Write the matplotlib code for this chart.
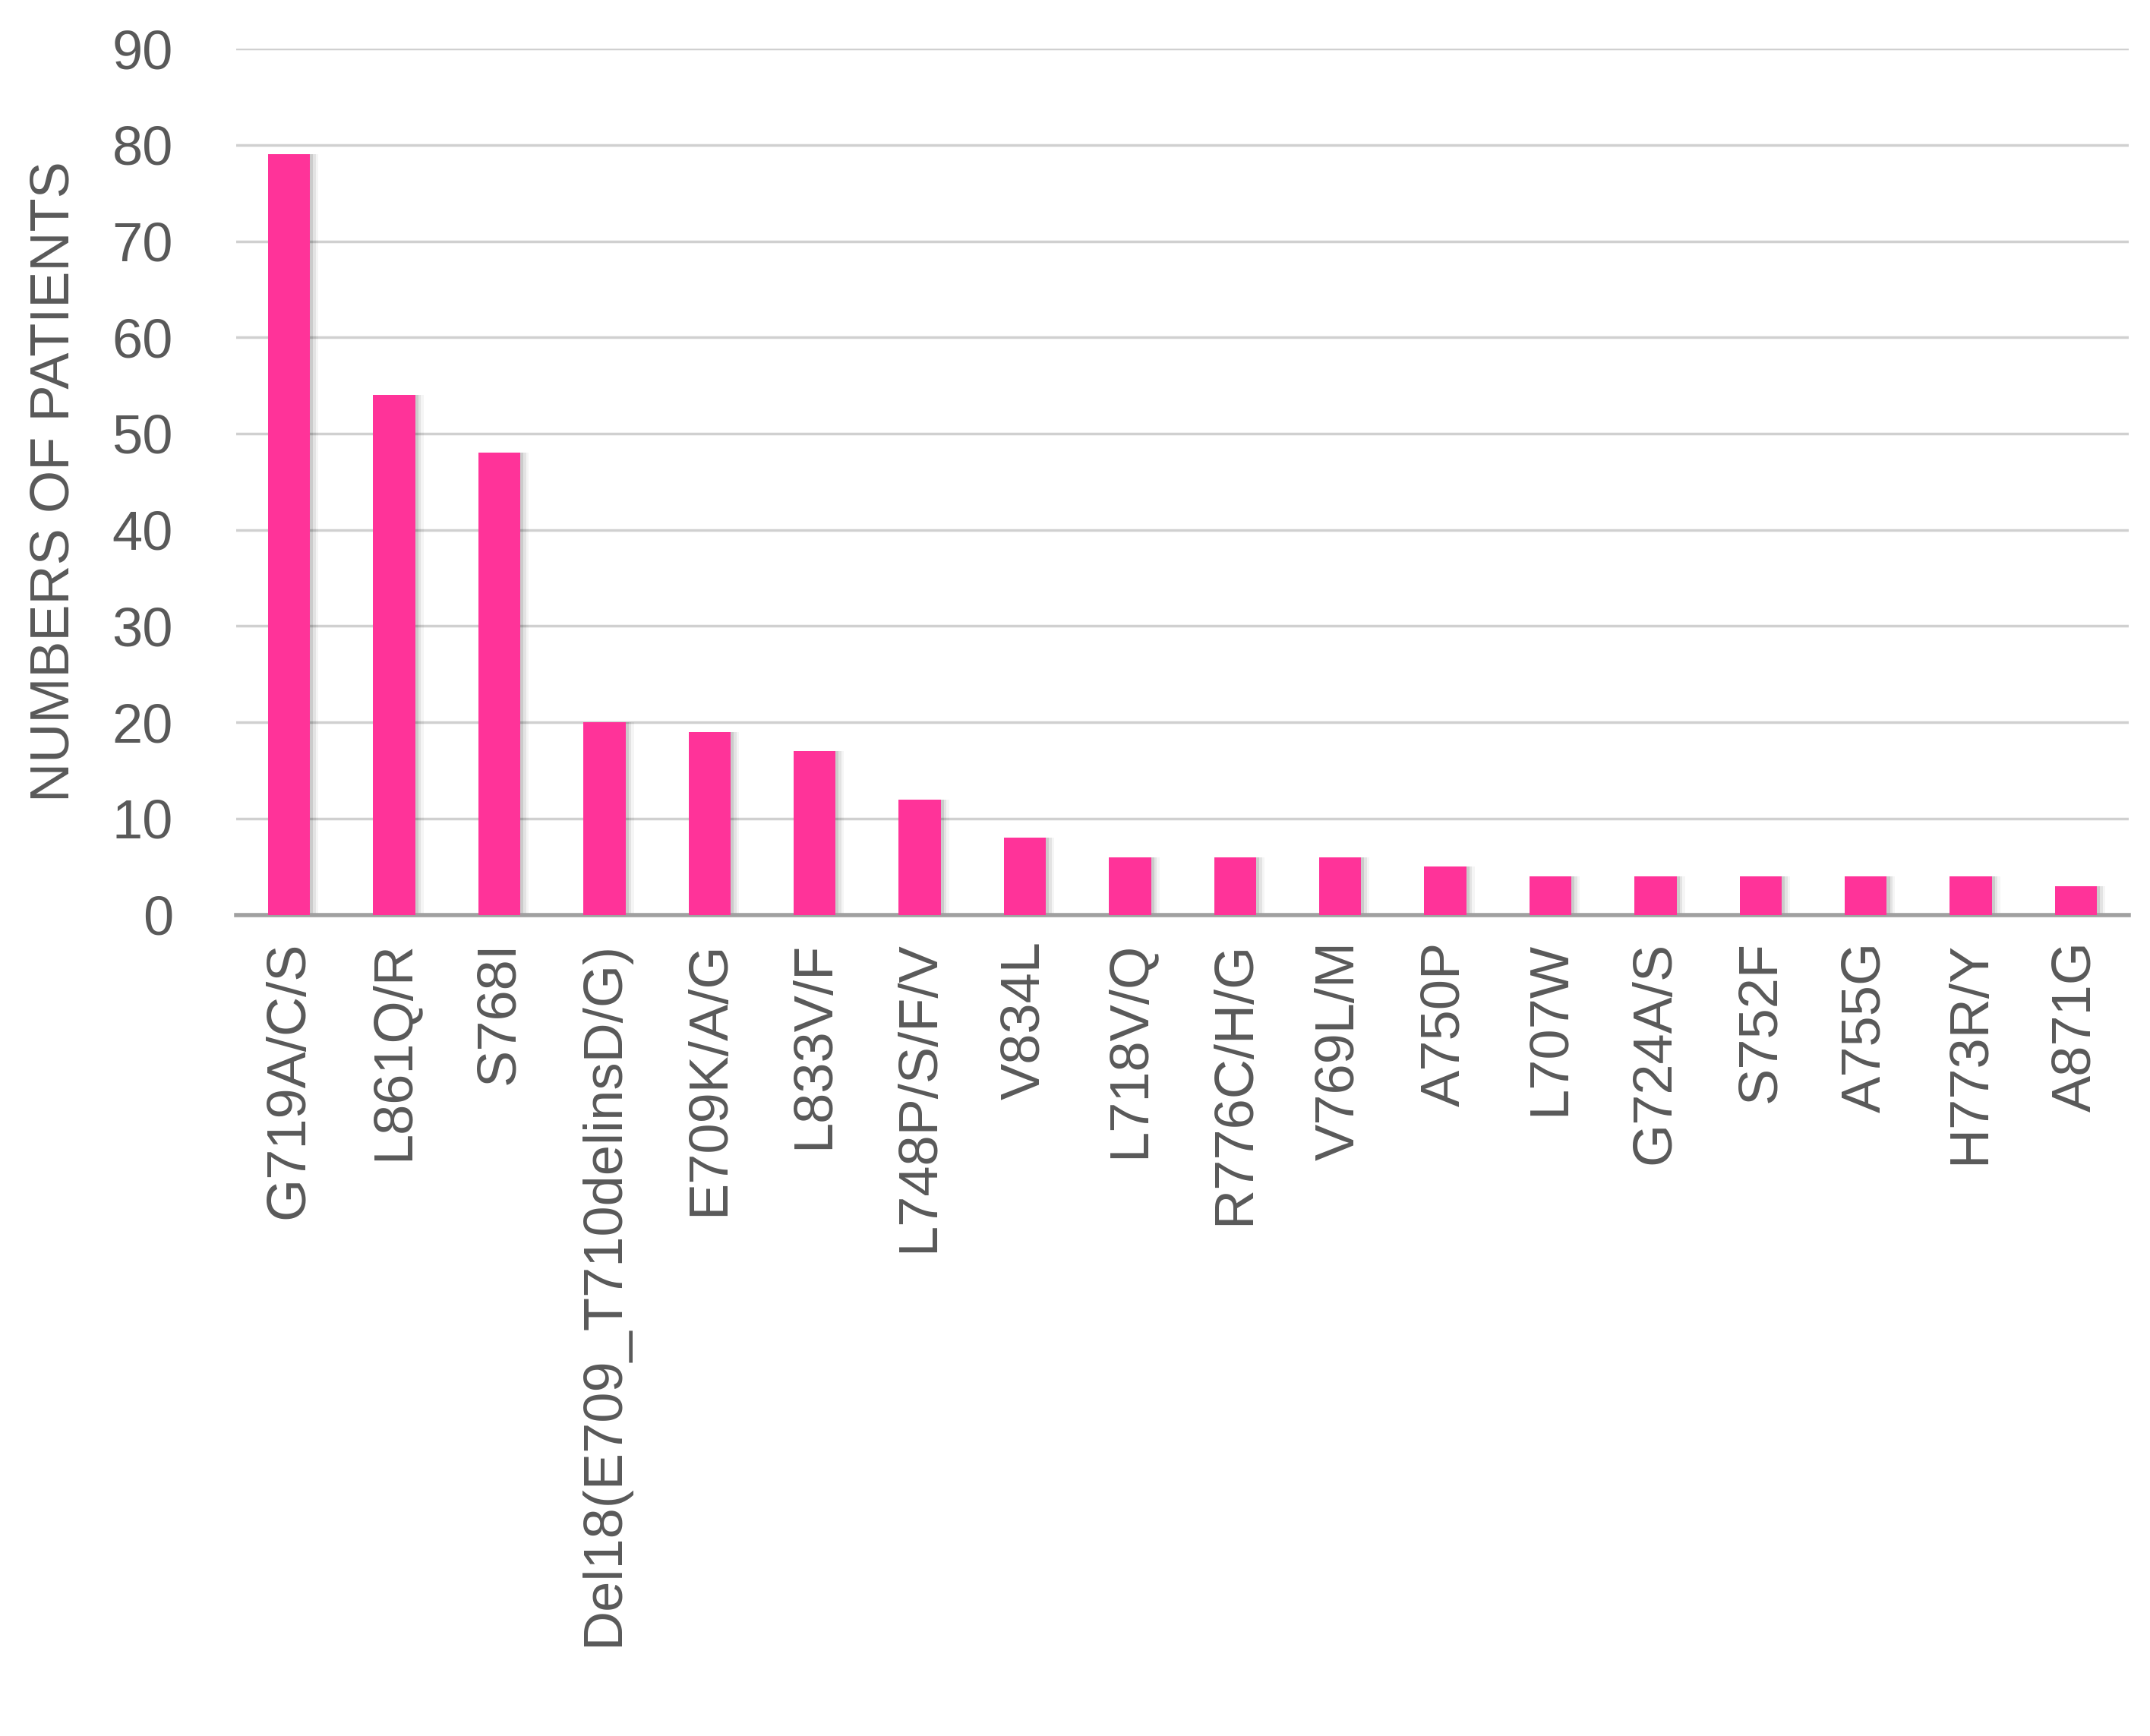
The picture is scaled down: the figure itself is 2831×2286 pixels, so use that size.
import matplotlib.pyplot as plt
import numpy as np

mutations = ["G719A/C/S", "L861Q/R", "S768I", "Del18(E709_T710delinsD/G)",
             "E709K/A/G", "L833V/F", "L748P/S/F/V", "V834L", "L718V/Q",
             "R776C/H/G", "V769L/M", "A750P", "L707W", "G724A/S", "S752F",
             "A755G", "H773R/Y", "A871G"]
patients = [79, 54, 48, 20, 19, 17, 12, 8, 6, 6, 6, 5, 4, 4, 4, 4, 4, 3]
y_ticks = list(range(0, 91, 10))

plt.rcParams["font.family"] = ["Liberation Sans", "DejaVu Sans"]
grey = "#595959"

fig = plt.figure(figsize=(28.31, 22.86), dpi=100)
ax = fig.add_axes([0.110, 0.473, 0.880, 0.499])

x = np.arange(len(mutations))
# soft drop shadow
for k, a in enumerate([0.10, 0.07, 0.04]):
    ax.bar(x + 0.03 + 0.025 * k, patients, width=0.4, color="#000000",
           alpha=a, zorder=2, linewidth=0)
ax.bar(x, patients, width=0.4, color="#FF3399", zorder=3, linewidth=0)

ax.set_xlim(-0.5, len(mutations) - 0.5)
ax.set_ylim(0, 90)
ax.set_yticks(y_ticks)
ax.set_xticks(x)
ax.set_xticklabels(mutations, rotation=90, fontsize=52, color=grey)
ax.tick_params(axis="y", labelsize=52, colors=grey, length=0, pad=60)
ax.tick_params(axis="x", length=0, pad=25)
ax.grid(axis="y", color="#d0d0d0", linewidth=2.5, zorder=0)
for s in ["top", "right", "left"]:
    ax.spines[s].set_visible(False)
ax.spines["bottom"].set_color("#a0a0a0")
ax.spines["bottom"].set_linewidth(4)
ax.set_ylabel("NUMBERS OF PATIENTS", fontsize=52, color=grey, labelpad=30)

fig.savefig("out.png", dpi=100)
